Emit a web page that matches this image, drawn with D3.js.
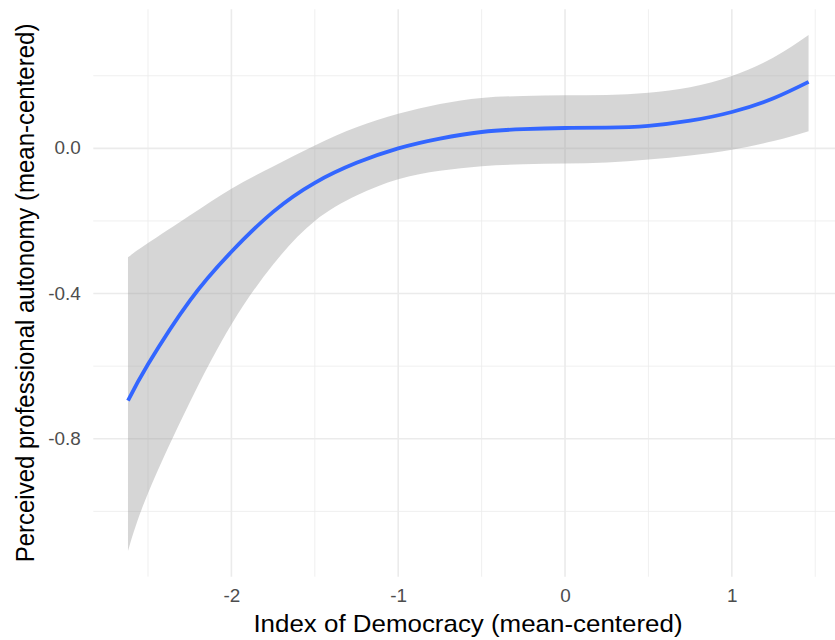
<!DOCTYPE html>
<html>
<head>
<meta charset="utf-8">
<script src="https://cdn.jsdelivr.net/npm/d3@7"></script>
<style>
  body { margin: 0; background: #fff; }
  text { font-family: "Liberation Sans", Arial, sans-serif; }
</style>
</head>
<body>
<div id="chart"></div>
<script>
// smoothed fit (loess with 95% band)
const democracy = [-2.62, -2.5, -2.25, -2.0, -1.75, -1.5, -1.25, -1.0, -0.75, -0.5, -0.25, 0, 0.25, 0.5, 0.75, 1.0, 1.25, 1.46];
const fit   = [-0.695, -0.595, -0.420, -0.285, -0.175, -0.095, -0.040, 0.000, 0.027, 0.045, 0.053, 0.056, 0.057, 0.062, 0.076, 0.100, 0.138, 0.183];
const upper = [-0.300, -0.261, -0.185, -0.111, -0.050, 0.008, 0.058, 0.095, 0.122, 0.139, 0.144, 0.146, 0.147, 0.153, 0.168, 0.199, 0.250, 0.312];
const lower = [-1.109, -0.950, -0.700, -0.485, -0.320, -0.200, -0.130, -0.085, -0.062, -0.049, -0.044, -0.042, -0.039, -0.031, -0.020, -0.004, 0.020, 0.047];

const xMajor = [-2, -1, 0, 1];
const xMinor = [-2.5, -1.5, -0.5, 0.5, 1.5];
const yMajor = [-0.8, -0.4, 0.0];
const yMinor = [-1.0, -0.6, -0.2, 0.2];

const width = 835, height = 640;
const panel = {left: 93.3, right: 842.6, top: 9.3, bottom: 576.7};
const stretch = 1.08; // the text in the original is a bit wide

const data = democracy.map((d, i) => ({x: d, fit: fit[i], lo: lower[i], hi: upper[i]}));

const x = d3.scaleLinear()
  .domain([-2.828, 1.664])
  .range([panel.left, panel.right]);

const y = d3.scaleLinear()
  .domain([-1.18, 0.383])
  .range([panel.bottom, panel.top]);

const svg = d3.select("#chart").append("svg")
  .attr("width", width)
  .attr("height", height);

// grid, minor first
svg.append("g").selectAll("line")
  .data(xMinor).enter().append("line")
  .attr("x1", d => x(d)).attr("x2", d => x(d))
  .attr("y1", panel.top).attr("y2", panel.bottom)
  .attr("stroke", "#ebebeb").attr("stroke-width", 0.8);

svg.append("g").selectAll("line")
  .data(yMinor).enter().append("line")
  .attr("x1", panel.left).attr("x2", panel.right)
  .attr("y1", d => y(d)).attr("y2", d => y(d))
  .attr("stroke", "#ebebeb").attr("stroke-width", 0.8);

svg.append("g").selectAll("line")
  .data(xMajor).enter().append("line")
  .attr("x1", d => x(d)).attr("x2", d => x(d))
  .attr("y1", panel.top).attr("y2", panel.bottom)
  .attr("stroke", "#ebebeb").attr("stroke-width", 1.6);

svg.append("g").selectAll("line")
  .data(yMajor).enter().append("line")
  .attr("x1", panel.left).attr("x2", panel.right)
  .attr("y1", d => y(d)).attr("y2", d => y(d))
  .attr("stroke", "#ebebeb").attr("stroke-width", 1.6);

// confidence band
const band = d3.area()
  .x(d => x(d.x))
  .y0(d => y(d.lo))
  .y1(d => y(d.hi))
  .curve(d3.curveNatural);

svg.append("path")
  .datum(data)
  .attr("d", band)
  .attr("fill", "#999999")
  .attr("fill-opacity", 0.4);

// fitted line
const line = d3.line()
  .x(d => x(d.x))
  .y(d => y(d.fit))
  .curve(d3.curveNatural);

svg.append("path")
  .datum(data)
  .attr("d", line)
  .attr("fill", "none")
  .attr("stroke", "#3366ff")
  .attr("stroke-width", 3.8);

// axes (labels only, no domain line like theme_minimal)
const xAxis = svg.append("g")
  .attr("transform", `translate(0,${panel.bottom})`)
  .call(d3.axisBottom(x).tickValues(xMajor).tickSize(0).tickPadding(13).tickFormat(d => String(d)));
xAxis.select(".domain").remove();
xAxis.selectAll("text")
  .attr("font-size", "17.5px")
  .attr("fill", "#4d4d4d")
  .attr("transform", `scale(${stretch},1)`)
  .style("font-family", "'Liberation Sans', Arial, sans-serif");

const yAxis = svg.append("g")
  .attr("transform", `translate(${panel.left},0)`)
  .call(d3.axisLeft(y).tickValues(yMajor).tickSize(0).tickPadding(11.5).tickFormat(d => d.toFixed(1)));
yAxis.select(".domain").remove();
yAxis.selectAll("text")
  .attr("font-size", "17.5px")
  .attr("fill", "#4d4d4d")
  .attr("transform", `scale(${stretch},1)`)
  .style("font-family", "'Liberation Sans', Arial, sans-serif");

// axis titles
svg.append("text")
  .attr("transform", `translate(${(panel.left + panel.right) / 2},631.5) scale(${stretch},1)`)
  .attr("text-anchor", "middle")
  .attr("font-size", "24px")
  .attr("fill", "#000")
  .text("Index of Democracy (mean-centered)");

svg.append("text")
  .attr("transform", `translate(33.5,${(panel.top + panel.bottom) / 2}) scale(${stretch},1) rotate(-90)`)
  .attr("text-anchor", "middle")
  .attr("font-size", "24px")
  .attr("fill", "#000")
  .text("Perceived professional autonomy (mean-centered)");
</script>
</body>
</html>
